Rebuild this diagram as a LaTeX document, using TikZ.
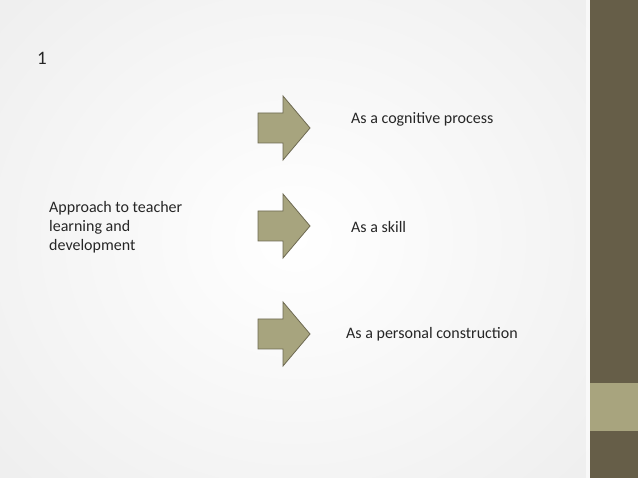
\documentclass[tikz,border=0pt]{standalone}
\usepackage{fontspec}
\setmainfont{Carlito}
\usetikzlibrary{shapes.arrows}
\definecolor{bardark}{HTML}{665E48}
\definecolor{barlight}{HTML}{A8A47E}
\definecolor{arrfill}{HTML}{A7A47E}
\definecolor{arrline}{HTML}{6E6A52}
\definecolor{txt}{HTML}{262626}
\begin{document}
\begin{tikzpicture}[x=1pt,y=-1pt,
  lbl/.style={anchor=west,inner sep=0pt,font=\fontsize{16}{19}\selectfont,text=txt},
  blockarrow/.style={fill=arrfill,draw=arrline,line width=0.8pt,line join=miter}]
\useasboundingbox (0,0) rectangle (638,478);
\fill[white] (0,0) rectangle (638,478);
\shade[inner color=white,outer color=black!8] (-200,-200) rectangle (790,678);
\fill[bardark] (590,0) rectangle (638,478);
\fill[barlight] (590,383) rectangle (638,431);
\fill[white,opacity=0.6] (586,0) rectangle (590,478);
% title number
\node[lbl,font=\fontsize{19}{20}\selectfont] (num) at (37,58) {1};
% left text
\node[lbl,align=left,anchor=north west] (src) at (49,201) {Approach to teacher\\learning and\\development};
% arrows
\foreach \n/\y in {a/128,b/226,c/334}{
  \draw[blockarrow] (258,\y-15) -- (283,\y-15) -- (283,\y-32) -- (310,\y) -- (283,\y+32) -- (283,\y+15) -- (258,\y+15) -- cycle;
  \coordinate (\n) at (284,\y);
}
\node[lbl] (t1) at (351,119) {As a cognitive process};
\node[lbl] (t2) at (351,227) {As a skill};
\node[lbl] (t3) at (346,334) {As a personal construction};
\end{tikzpicture}
\end{document}
